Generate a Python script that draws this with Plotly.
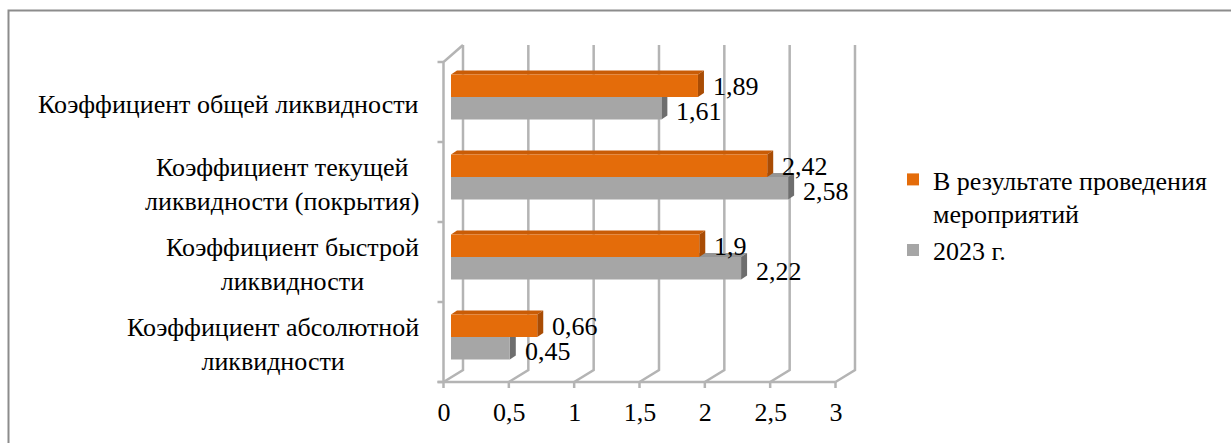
import plotly.graph_objects as go

# ---- data -------------------------------------------------------------
categories = [
    "Коэффициент абсолютной ликвидности",
    "Коэффициент быстрой ликвидности",
    "Коэффициент текущей ликвидности (покрытия)",
    "Коэффициент общей ликвидности",
]
category_labels = [
    "Коэффициент абсолютной<br>ликвидности",
    "Коэффициент быстрой<br>ликвидности",
    "Коэффициент текущей<br>ликвидности (покрытия)",
    "Коэффициент общей ликвидности",
]
values_2023 = [0.45, 2.22, 2.58, 1.61]
values_after = [0.66, 1.9, 2.42, 1.89]
series_names = ["2023 г.", "В результате проведения<br>мероприятий"]
x_ticks = [0, 0.5, 1, 1.5, 2, 2.5, 3]

# ---- styling / geometry ----------------------------------------------
FONT = "Liberation Serif"
FS = 26
ORANGE, ORANGE_TOP, ORANGE_SIDE = "#E46C0A", "#C95C06", "#A94C04"
GRAY, GRAY_TOP, GRAY_SIDE = "#A6A6A6", "#959595", "#6E6E6E"
GRID = "#B4B4B4"

FIG_W, FIG_H = 1231, 443
X0, T = 451, 57            # plot-area origin (pixels)
W, H = 392, 320            # plot-area size (pixels)
X_MAX = 3.0
UNIT = W / X_MAX
N = len(categories)
BAND = H / N
BARGAP = 0.4375
HALF = (1 - BARGAP) / 2 * BAND
DX, DY = 6, 4              # bar depth

# front and back planes of the 3-D box
FRONT_X0, FRONT_TOP, FRONT_BOT = 443.5, 62, 382
BACK_X0, BACK_TOP, BACK_BOT = 463, 45, 370


def px(p):
    return (p - X0) / W


def py(p):
    return (T + H - p) / H


def path(points):
    pts = [f"{px(a):.5f},{py(b):.5f}" for a, b in points]
    return "M" + " L".join(pts) + " Z"


def poly(points):
    pts = [f"{px(a):.5f},{py(b):.5f}" for a, b in points]
    return "M" + " L".join(pts)


shapes = []
line_style = dict(color=GRID, width=2.5)

# back wall grid lines with their floor diagonals
for v in x_ticks:
    xb = BACK_X0 + v * UNIT
    xf = FRONT_X0 + v * UNIT
    shapes.append(dict(type="path", xref="paper", yref="paper", layer="below",
                       path=poly([(xb, BACK_TOP), (xb, BACK_BOT), (xf, FRONT_BOT)]),
                       line=line_style))
    # tick mark below the front axis
    shapes.append(dict(type="line", xref="paper", yref="paper", layer="below",
                       x0=px(xf), x1=px(xf), y0=py(FRONT_BOT), y1=py(FRONT_BOT + 6),
                       line=line_style))

# front horizontal axis
shapes.append(dict(type="line", xref="paper", yref="paper", layer="below",
                   x0=px(FRONT_X0 - 6), x1=px(FRONT_X0 + X_MAX * UNIT),
                   y0=py(FRONT_BOT), y1=py(FRONT_BOT), line=line_style))
# front vertical axis and the top edge of the side wall
shapes.append(dict(type="path", xref="paper", yref="paper", layer="below",
                   path=poly([(FRONT_X0, FRONT_BOT), (FRONT_X0, FRONT_TOP),
                              (BACK_X0, BACK_TOP)]),
                   line=line_style))
for k in range(N + 1):
    yk = FRONT_TOP + k * (FRONT_BOT - FRONT_TOP) / N
    shapes.append(dict(type="line", xref="paper", yref="paper", layer="below",
                       x0=px(FRONT_X0 - 6), x1=px(FRONT_X0), y0=py(yk), y1=py(yk),
                       line=line_style))


# 3-D top and side faces of the bars
def bar_faces(values, upper, top_col, side_col):
    for i, v in enumerate(values):
        c = T + H - (i + 0.5) * BAND
        top, bot = (c - HALF, c) if upper else (c, c + HALF)
        xl, xr = X0, X0 + v * UNIT
        shapes.append(dict(type="path", xref="paper", yref="paper", layer="between",
                           path=path([(xl, top), (xl + DX, top - DY),
                                      (xr + DX, top - DY), (xr, top)]),
                           fillcolor=top_col, line=dict(width=0)))
        shapes.append(dict(type="path", xref="paper", yref="paper", layer="between",
                           path=path([(xr, top), (xr + DX, top - DY),
                                      (xr + DX, bot - DY), (xr, bot)]),
                           fillcolor=side_col, line=dict(width=0)))


bar_faces(values_2023, False, GRAY_TOP, GRAY_SIDE)
bar_faces(values_after, True, ORANGE_TOP, ORANGE_SIDE)

# outer frame
shapes.append(dict(type="path", xref="paper", yref="paper", layer="above",
                   path=poly([(8.5, FIG_H + 10), (8.5, 10.5), (FIG_W + 10, 10.5)]),
                   line=dict(color="#8C8C8C", width=2)))

fig = go.Figure()
fig.add_trace(go.Bar(orientation="h", y=categories, x=values_2023,
                     name=series_names[0], marker=dict(color=GRAY, line=dict(width=0))))
fig.add_trace(go.Bar(orientation="h", y=categories, x=values_after,
                     name=series_names[1], marker=dict(color=ORANGE, line=dict(width=0))))


def fmt(v):
    return f"{v:g}".replace(".", ",")


label_font = dict(family=FONT, size=FS, color="black")
annotations = []
for i, cat in enumerate(categories):
    annotations.append(dict(x=values_after[i], y=cat, xref="x", yref="y",
                            text=fmt(values_after[i]), showarrow=False,
                            xanchor="left", yanchor="middle", xshift=13, yshift=11,
                            font=label_font))
    annotations.append(dict(x=values_2023[i], y=cat, xref="x", yref="y",
                            text=fmt(values_2023[i]), showarrow=False,
                            xanchor="left", yanchor="middle", xshift=13, yshift=-14,
                            font=label_font))
    annotations.append(dict(x=px(421), y=cat, xref="paper", yref="y",
                            text=category_labels[i], showarrow=False,
                            xanchor="right", yanchor="middle", align="center", yshift=-7,
                            font=label_font))

fig.update_layout(
    width=FIG_W, height=FIG_H, autosize=False,
    margin=dict(l=X0, r=FIG_W - X0 - W, t=T, b=FIG_H - T - H, pad=0),
    paper_bgcolor="white", plot_bgcolor="rgba(0,0,0,0)",
    separators=", ",
    barmode="group", bargap=BARGAP, bargroupgap=0,
    font=dict(family=FONT, size=FS, color="black"),
    xaxis=dict(range=[0, X_MAX], tickvals=x_ticks, showgrid=False, zeroline=False,
               showline=False, ticks="", ticklabelshift=-7, ticklabelstandoff=17,
               tickfont=dict(family=FONT, size=FS, color="black"), fixedrange=True),
    yaxis=dict(range=[-0.5, N - 0.5], type="category", showgrid=False, zeroline=False,
               showline=False, showticklabels=False, ticks="", fixedrange=True),
    legend=dict(x=px(893), y=py(156), xanchor="left", yanchor="top",
                traceorder="reversed", valign="top", bgcolor="rgba(0,0,0,0)",
                font=dict(family=FONT, size=FS, color="black"), tracegroupgap=0),
    shapes=shapes,
    annotations=annotations,
)

fig.write_html("out.html")
